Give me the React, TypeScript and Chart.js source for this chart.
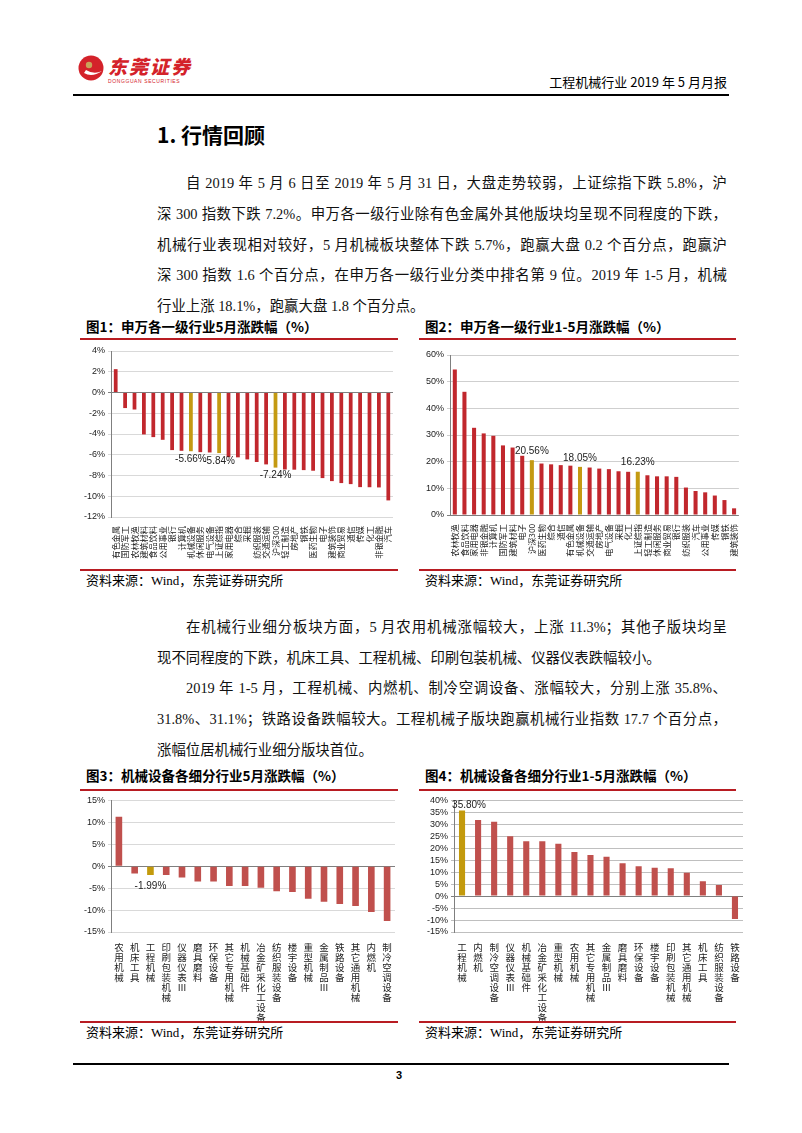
import React, { useEffect, useRef } from 'react';
import { Chart, registerables } from 'chart.js';
Chart.register(...registerables);

// ---------- Data ----------
const FIG1_CATEGORIES = ['有色金属','国防军工','农林牧渔','建筑材料','食品饮料','公用事业','银行','计算机','机械设备','休闲服务','电气设备','上证综指','家用电器','综合','采掘','纺织服装','交通运输','沪深300','轻工制造','房地产','钢铁','医药生物','电子','建筑装饰','商业贸易','通信','传媒','化工','非银金融','汽车'];
const FIG1_VALUES = [2.25,-1.5,-1.64,-4.04,-4.3,-4.56,-5.55,-5.62,-5.66,-5.75,-5.78,-5.84,-6.23,-6.25,-6.45,-6.7,-6.93,-7.24,-7.42,-7.44,-7.48,-7.54,-8.25,-8.54,-8.73,-8.83,-9.12,-9.13,-9.15,-10.4];
const FIG1_HIGHLIGHT = ['机械设备','上证综指','沪深300'];

const FIG2_CATEGORIES = ['农林牧渔','食品饮料','家用电器','非银金融','计算机','国防军工','建筑材料','电子','沪深300','医药生物','综合','通信','有色金属','机械设备','交通运输','房地产','电气设备','采掘','化工','上证综指','轻工制造','休闲服务','商业贸易','银行','纺织服装','汽车','公用事业','传媒','钢铁','建筑装饰'];
const FIG2_VALUES = [54.6,46.2,32.7,30.6,29.7,26.1,25.3,22.2,20.56,19.3,19.0,18.7,18.5,18.05,17.8,17.4,17.2,16.4,16.2,16.23,14.9,14.5,14.5,14.3,10.3,9.0,8.5,7.3,5.6,2.5];
const FIG2_HIGHLIGHT = ['沪深300','机械设备','上证综指'];

const FIG3_CATEGORIES = ['农用机械','机床工具','工程机械','印刷包装机械','仪器仪表Ⅲ','磨具磨料','环保设备','其它专用机械','机械基础件','冶金矿采化工设备','纺织服装设备','楼宇设备','重型机械','金属制品Ⅲ','铁路设备','其它通用机械','内燃机','制冷空调设备'];
const FIG3_VALUES = [11.3,-1.67,-1.99,-2.0,-2.6,-3.5,-3.5,-4.5,-4.5,-4.9,-5.7,-5.9,-7.4,-8.1,-8.6,-9.1,-10.45,-12.5];
const FIG3_HIGHLIGHT = ['工程机械'];

const FIG4_CATEGORIES = ['工程机械','内燃机','制冷空调设备','仪器仪表Ⅲ','机械基础件','冶金矿采化工设备','重型机械','农用机械','其它专用机械','金属制品Ⅲ','磨具磨料','环保设备','楼宇设备','印刷包装机械','其它通用机械','机床工具','纺织服装设备','铁路设备'];
const FIG4_VALUES = [35.8,31.8,31.1,25.0,22.9,22.9,21.9,18.4,17.2,16.5,13.7,12.5,11.9,11.6,9.8,6.2,4.6,-9.6];
const FIG4_HIGHLIGHT = ['工程机械'];

const CJK = "'Noto Sans CJK SC', sans-serif";
const AXIS_FONT = "'Liberation Sans', 'Noto Sans CJK SC', sans-serif";
const SERIF = "'Liberation Serif', 'Noto Sans CJK SC', serif";

// Draws value labels on highlighted bars, then sets letter spacing for the x-axis labels (drawn afterwards, z=1)
const valueLabelPlugin = {
  id: 'valueLabels',
  afterDatasetsDraw(chart: any, _args: any, opts: any) {
    const { ctx } = chart;
    const meta = chart.getDatasetMeta(0);
    const data = chart.data.datasets[0].data as number[];
    ctx.save();
    ctx.font = opts.font;
    ctx.fillStyle = '#222';
    ctx.textAlign = 'center';
    ctx.textBaseline = 'middle';
    (opts.indices as number[]).forEach((i) => {
      const el = meta.data[i];
      const v = data[i];
      const y = v < 0 ? el.y + opts.offset : el.y - opts.offset;
      ctx.fillText(v.toFixed(2) + '%', el.x + (opts.dx || 0), y);
    });
    ctx.restore();
    if (opts.spacing) (ctx as any).letterSpacing = opts.spacing;
  },
  afterDraw(chart: any) {
    (chart.ctx as any).letterSpacing = '0px';
  },
};

type BarProps = {
  categories: string[];
  values: number[];
  highlight: string[];
  color: string;
  highlightColor: string;
  yMin: number; yMax: number; step: number;
  left: number; top: number; width: number; height: number;
  padTop: number; padRight: number; yAxisWidth: number; xAxisHeight: number;
  pct: number;
  rotated: boolean;
  labelOffset: number;
  labelDx?: number;
  gridColor: string;
};

function BarChart(p: BarProps) {
  const ref = useRef<HTMLCanvasElement>(null);
  useEffect(() => {
    if (!ref.current) return;
    const labels = p.rotated ? p.categories : p.categories.map((c) => Array.from(c));
    const hiIdx = p.categories.map((c, i) => (p.highlight.includes(c) ? i : -1)).filter((i) => i >= 0);
    const chart = new Chart(ref.current, {
      type: 'bar',
      data: {
        labels,
        datasets: [{
          data: p.values,
          backgroundColor: p.categories.map((c) => (p.highlight.includes(c) ? p.highlightColor : p.color)),
          barPercentage: p.pct,
          categoryPercentage: 1,
          borderWidth: 0,
        }],
      },
      options: {
        animation: false,
        responsive: false,
        maintainAspectRatio: false,
        devicePixelRatio: 1,
        layout: { padding: { top: p.padTop, right: p.padRight, left: 0, bottom: 0 } },
        plugins: {
          legend: { display: false },
          tooltip: { enabled: false },
          valueLabels: {
            indices: hiIdx,
            font: `10px ${AXIS_FONT}`,
            offset: p.labelOffset,
            dx: p.labelDx || 0,
            spacing: p.rotated ? '2.4px' : null,
          },
        } as any,
        scales: {
          x: {
            z: 1,
            grid: { display: false },
            border: { display: false },
            ticks: {
              autoSkip: false,
              minRotation: p.rotated ? 90 : 0,
              maxRotation: p.rotated ? 90 : 0,
              padding: p.rotated ? 1 : 2,
              color: '#222',
              font: p.rotated
                ? { family: CJK, size: 8.2 }
                : { family: CJK, size: 9.5, lineHeight: '10px' },
            },
            afterFit: (s: any) => { s.height = p.xAxisHeight; },
          },
          y: {
            min: p.yMin,
            max: p.yMax,
            ticks: {
              stepSize: p.step,
              autoSkip: false,
              color: '#222',
              padding: 3,
              font: { family: AXIS_FONT, size: 9 },
              callback: (v: any) => `${v}%`,
            },
            grid: {
              color: (ctx: any) => (ctx.tick && ctx.tick.value === 0 ? '#7f7f7f' : p.gridColor),
              drawTicks: true,
              tickLength: 3,
            },
            border: { display: true, color: '#7f7f7f' },
            afterFit: (s: any) => { s.width = p.yAxisWidth; },
          },
        },
      },
      plugins: [valueLabelPlugin],
    });
    return () => chart.destroy();
  }, []);
  return (
    <canvas
      ref={ref}
      width={p.width}
      height={p.height}
      style={{ position: 'absolute', left: p.left, top: p.top, width: p.width, height: p.height }}
    />
  );
}

const abs = (s: React.CSSProperties): React.CSSProperties => ({ position: 'absolute', ...s });

function FigureFrame({ left, width, titleTop, title, lineTop, bottomLine, sourceTop }: any) {
  return (
    <>
      <div style={abs({ left: left + 6, top: titleTop, fontFamily: CJK, fontWeight: 700, fontSize: 13.5, whiteSpace: 'nowrap', lineHeight: '16px' })}>{title}</div>
      <div style={abs({ left, top: lineTop, width, height: 2, background: '#b81c22' })} />
      <div style={abs({ left, top: bottomLine, width, height: 2, background: '#b81c22' })} />
      <div style={abs({ left: left + 6, top: sourceTop, fontFamily: SERIF, fontSize: 13, whiteSpace: 'nowrap', lineHeight: '16px' })}>资料来源：Wind，东莞证券研究所</div>
    </>
  );
}

const LINE_H = 30.8;
function Para({ top, lines }: { top: number; lines: string[] }) {
  return (
    <>
      {lines.map((ln, i) => {
        const last = i === lines.length - 1;
        return (
          <div key={i} style={{
            position: 'absolute',
            left: i === 0 ? 186 : 157,
            width: i === 0 ? 541 : 570,
            top: top + i * LINE_H,
            fontFamily: SERIF,
            fontSize: 14.4,
            lineHeight: `${LINE_H}px`,
            whiteSpace: 'nowrap',
            textAlign: last ? 'left' : 'justify',
            textAlignLast: last ? 'left' : 'justify',
            color: '#111',
          } as React.CSSProperties}>{ln}</div>
        );
      })}
    </>
  );
}

const PARA1 = [
  '自 2019 年 5 月 6 日至 2019 年 5 月 31 日，大盘走势较弱，上证综指下跌 5.8%，沪',
  '深 300 指数下跌 7.2%。申万各一级行业除有色金属外其他版块均呈现不同程度的下跌，',
  '机械行业表现相对较好，5 月机械板块整体下跌 5.7%，跑赢大盘 0.2 个百分点，跑赢沪',
  '深 300 指数 1.6 个百分点，在申万各一级行业分类中排名第 9 位。2019 年 1-5 月，机械',
  '行业上涨 18.1%，跑赢大盘 1.8 个百分点。',
];
const PARA2 = [
  '在机械行业细分板块方面，5 月农用机械涨幅较大，上涨 11.3%；其他子版块均呈',
  '现不同程度的下跌，机床工具、工程机械、印刷包装机械、仪器仪表跌幅较小。',
];
const PARA3 = [
  '2019 年 1-5 月，工程机械、内燃机、制冷空调设备、涨幅较大，分别上涨 35.8%、',
  '31.8%、31.1%；铁路设备跌幅较大。工程机械子版块跑赢机械行业指数 17.7 个百分点，',
  '涨幅位居机械行业细分版块首位。',
];

export default function App() {
  return (
    <div style={{ position: 'absolute', left: 0, top: 0, width: 802, height: 1133, background: '#fff', overflow: 'hidden' }}>
      {/* Header */}
      <svg style={abs({ left: 78, top: 54 })} width={28} height={28} viewBox="0 0 28 28">
        <circle cx="13" cy="14" r="12.5" fill="#d4222a" />
        <path d="M6 19 Q14 24 24 17 Q16 21 8 16 Z" fill="#fff" />
        <circle cx="11" cy="11" r="3.2" fill="#c9a45a" />
      </svg>
      <div style={abs({ left: 108, top: 55, fontFamily: CJK, fontWeight: 900, fontSize: 19, color: '#d4222a', letterSpacing: 2, lineHeight: '22px', fontStyle: 'italic' })}>东莞证券</div>
      <div style={abs({ left: 108, top: 78, fontFamily: AXIS_FONT, fontSize: 5, color: '#d4222a', letterSpacing: 0.6, lineHeight: '6px' })}>DONGGUAN SECURITIES</div>
      <div style={abs({ right: 802 - 727, top: 74, fontFamily: CJK, fontSize: 13, lineHeight: '16px', whiteSpace: 'nowrap' })}>工程机械行业 2019 年 5 月月报</div>
      <div style={abs({ left: 73, top: 94, width: 656, height: 2, background: '#000' })} />

      {/* Section */}
      <div style={abs({ left: 157, top: 120, fontFamily: CJK, fontWeight: 700, fontSize: 21, lineHeight: '28px' })}>1. 行情回顾</div>
      <Para top={168} lines={PARA1} />

      {/* Figures 1 & 2 */}
      <FigureFrame left={80} width={318} titleTop={318} title="图1：申万各一级行业5月涨跌幅（%）" lineTop={338} bottomLine={569} sourceTop={573} />
      <FigureFrame left={419} width={317} titleTop={318} title="图2：申万各一级行业1-5月涨跌幅（%）" lineTop={338} bottomLine={569} sourceTop={573} />
      <BarChart categories={FIG1_CATEGORIES} values={FIG1_VALUES} highlight={FIG1_HIGHLIGHT}
        color="#c1272d" highlightColor="#c49a12" yMin={-12} yMax={4} step={2}
        left={80} top={342} width={320} height={226} padTop={9} padRight={7} yAxisWidth={31} xAxisHeight={51}
        pct={0.4} rotated labelOffset={8} gridColor="#d9d9d9" />
      <BarChart categories={FIG2_CATEGORIES} values={FIG2_VALUES} highlight={FIG2_HIGHLIGHT}
        color="#c1272d" highlightColor="#c49a12" yMin={0} yMax={60} step={10}
        left={415} top={342} width={330} height={226} padTop={13} padRight={5} yAxisWidth={35} xAxisHeight={53}
        pct={0.42} rotated labelOffset={9} gridColor="#cfcfcf" />

      <Para top={612} lines={PARA2} />
      <Para top={673} lines={PARA3} />

      {/* Figures 3 & 4 */}
      <FigureFrame left={80} width={318} titleTop={767} title="图3：机械设备各细分行业5月涨跌幅（%）" lineTop={789} bottomLine={1021} sourceTop={1025} />
      <FigureFrame left={419} width={317} titleTop={767} title="图4：机械设备各细分行业1-5月涨跌幅（%）" lineTop={789} bottomLine={1021} sourceTop={1025} />
      <BarChart categories={FIG3_CATEGORIES} values={FIG3_VALUES} highlight={FIG3_HIGHLIGHT}
        color="#c0504d" highlightColor="#c39a0c" yMin={-15} yMax={15} step={5}
        left={80} top={792} width={320} height={229} padTop={8} padRight={5} yAxisWidth={31} xAxisHeight={89}
        pct={0.42} rotated={false} labelOffset={11} gridColor="#d9d9d9" />
      <BarChart categories={FIG4_CATEGORIES} values={FIG4_VALUES} highlight={FIG4_HIGHLIGHT}
        color="#c0504d" highlightColor="#c39a0c" yMin={-15} yMax={40} step={5}
        left={415} top={792} width={330} height={229} padTop={7} padRight={2} yAxisWidth={39} xAxisHeight={89}
        pct={0.38} rotated={false} labelOffset={5} labelDx={7} gridColor="#bfbfbf" />

      {/* Footer */}
      <div style={abs({ left: 73, top: 1063, width: 656, height: 2, background: '#000' })} />
      <div style={abs({ left: 396, top: 1068, fontFamily: AXIS_FONT, fontWeight: 700, fontSize: 11, lineHeight: '14px' })}>3</div>
    </div>
  );
}
